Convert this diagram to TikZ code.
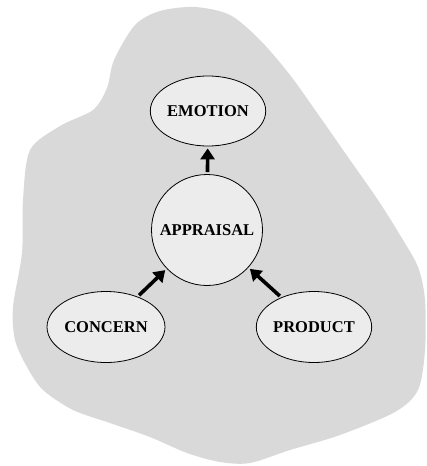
\documentclass[tikz,border=0pt]{standalone}
\usepackage{fontspec}
\setmainfont{Liberation Serif}
\usetikzlibrary{arrows.meta, shapes.geometric}

\definecolor{blobgray}{HTML}{D9D9D9}
\definecolor{nodegray}{HTML}{ECECEC}

\tikzset{
    idea/.style = {draw = black, line width = 0.8pt, fill = nodegray, ellipse,
                   minimum width = 110pt, minimum height = 70pt, inner sep = 0pt,
                   font = \fontsize{16.5}{19}\selectfont\bfseries},
    push/.style = {-{Triangle[length = 11pt, width = 14pt]}, line width = 3.6pt, black,
                   shorten < = 2pt, shorten > = 2pt}
}

\begin{document}
\begin{tikzpicture}[x = 1pt, y = -1pt]
    \useasboundingbox (0, 0) rectangle (426, 466);

    % the grey cloud behind everything
    \fill[color = blobgray] plot[smooth cycle, tension = 0.5] coordinates {
        (135, 25) (160, 11) (195, 7) (230, 15) (260, 40) (290, 75)
        (320, 117) (350, 160) (378, 200) (400, 235) (418, 267) (425, 300)
        (425, 350) (418, 390) (395, 412) (340, 435) (290, 450) (250, 463)
        (220, 462) (187, 453) (150, 437) (110, 423) (73, 410) (43, 390)
        (27, 367) (15, 340) (13, 307) (22, 253) (23, 200) (30, 150)
        (60, 126) (93, 110) (107, 88) (114, 60)};

    \node[idea] (emotion) at (208, 111) {EMOTION};
    \node[idea, circle, minimum size = 111pt] (appraisal) at (207, 230) {APPRAISAL};
    \node[idea, minimum width = 108pt, minimum height = 71pt] (concern) at (106, 327) {CONCERN};
    \node[idea, minimum width = 108pt, minimum height = 71pt] (product) at (314, 327) {PRODUCT};

    \draw[push] (appraisal) -- (emotion);
    \draw[push] (concern) -- (appraisal);
    \draw[push] (product) -- (appraisal);
\end{tikzpicture}
\end{document}
